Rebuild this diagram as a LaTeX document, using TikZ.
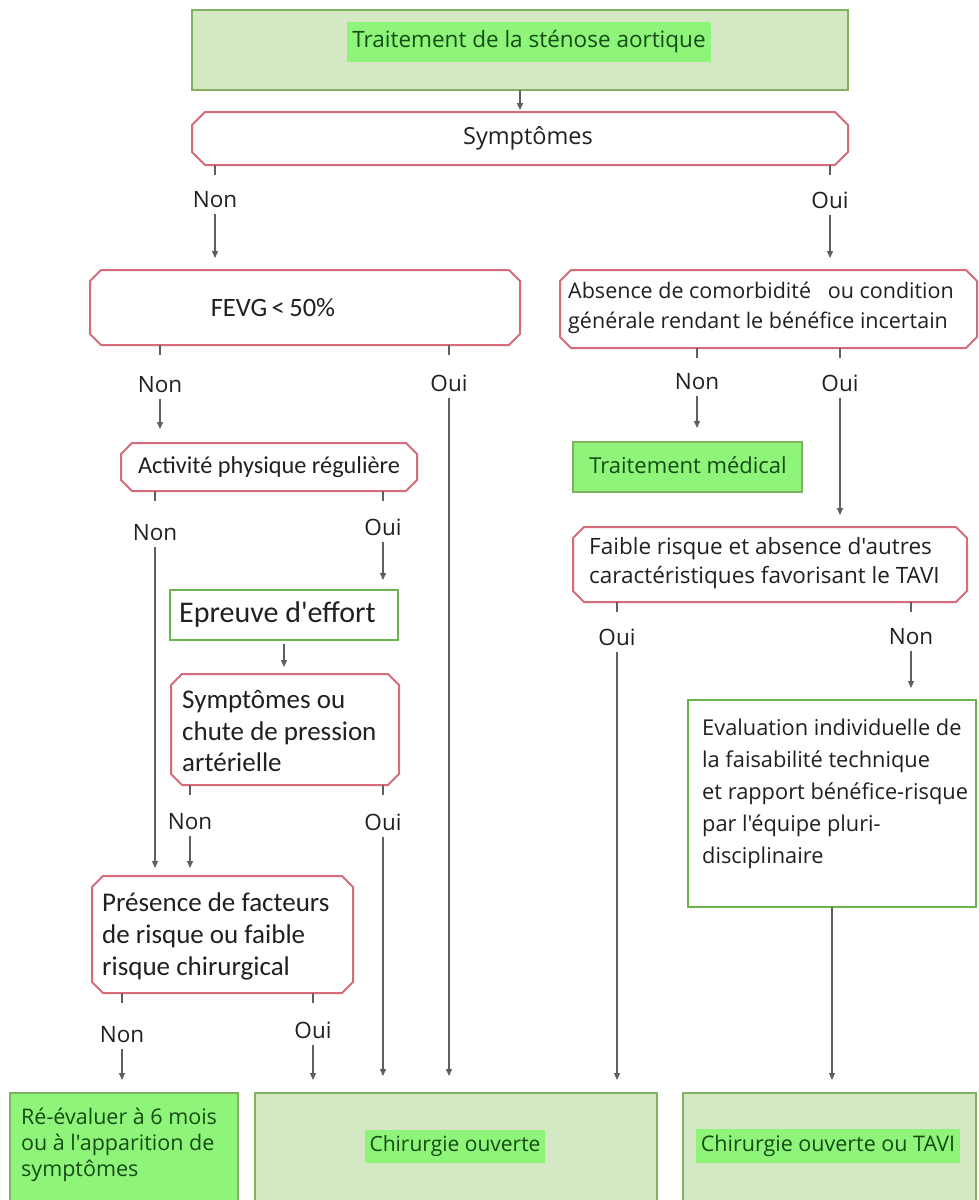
\documentclass[tikz,border=0pt]{standalone}
\usepackage{fontspec}
\newfontfamily\segf{Open Sans}
\newfontfamily\calf{Carlito}
\usetikzlibrary{arrows.meta}
\definecolor{redc}{RGB}{214,108,122}
\definecolor{gbd}{RGB}{128,178,98}
\definecolor{gfill}{RGB}{213,232,196}
\definecolor{hlc}{RGB}{142,244,122}
\definecolor{gtext}{RGB}{20,76,20}
\definecolor{txt}{RGB}{32,32,32}
\definecolor{lnc}{RGB}{95,95,95}
\definecolor{evb}{RGB}{108,178,78}
\newcommand\chbox[2][11pt]{%
  \draw[redline] ([xshift=#1]#2.north west) -- ([xshift=-#1]#2.north east)
    -- ([yshift=-#1]#2.north east) -- ([yshift=#1]#2.south east)
    -- ([xshift=-#1]#2.south east) -- ([xshift=#1]#2.south west)
    -- ([yshift=#1]#2.south west) -- ([yshift=-#1]#2.north west) -- cycle;}
\begin{document}
\begin{tikzpicture}[x=1pt,y=-1pt,
  line/.style={draw=lnc, line width=1.3pt},
  arr/.style={line, -{Triangle[length=7pt,width=6pt]}},
  redline/.style={draw=redc, line width=2pt, fill=white, line join=round},
  shape0/.style={rectangle, inner sep=0pt, outer sep=0pt},
  gbox/.style={shape0, draw=gbd, line width=2pt, fill=gfill},
  hbox/.style={shape0, draw=gbd, line width=2pt, fill=hlc},
  wbox/.style={shape0, draw=evb, line width=2pt, fill=white},
  lab/.style={font=\segf\fontsize{22.5}{26}\selectfont, text=txt, inner xsep=2pt, inner ysep=6pt},
  segt/.style={font=\segf\fontsize{21.5}{30}\selectfont, text=txt, inner sep=0pt, align=left},
  calt/.style={font=\calf\fontsize{27}{32}\selectfont, text=txt, inner sep=0pt, align=left},
  gt/.style={font=\segf\fontsize{21}{26}\selectfont, text=gtext, inner sep=0pt, align=left},
  hl/.style={gt, fill=hlc, inner xsep=5pt, inner ysep=6pt}
]
\useasboundingbox (0,0) rectangle (978,1200);
\fill[white] (0,0) rectangle (978,1200);
\begin{scope}
\clip (0,0) rectangle (978,1200);
% boxes
\node[gbox, minimum width=656pt, minimum height=80pt] (top) at (520,50) {};
\node[shape0, minimum width=656pt, minimum height=53pt] (sym) at (520,138.5) {};
\chbox[13pt]{sym}
\node[shape0, minimum width=430pt, minimum height=75pt] (fevg) at (305,307.5) {};
\chbox{fevg}
\node[shape0, minimum width=417pt, minimum height=78pt] (abs) at (768.5,309) {};
\chbox{abs}
\node[shape0, minimum width=296pt, minimum height=48pt] (act) at (269,467) {};
\chbox{act}
\node[hbox, minimum width=229pt, minimum height=50pt] (med) at (687.5,467) {};
\node[wbox, minimum width=228pt, minimum height=50pt] (epr) at (284,615) {};
\node[shape0, minimum width=228pt, minimum height=111pt] (sco) at (285,729.5) {};
\chbox{sco}
\node[shape0, minimum width=394pt, minimum height=75pt] (fai) at (770,564.5) {};
\chbox{fai}
\node[wbox, minimum width=288pt, minimum height=207pt] (eva) at (832,803.5) {};
\node[shape0, minimum width=261pt, minimum height=117pt] (pre) at (222.5,934.5) {};
\chbox{pre}
\node[hbox, minimum width=228pt, minimum height=130pt] (ree) at (124,1158) {};
\node[gbox, minimum width=402pt, minimum height=130pt] (chi) at (456,1158) {};
\node[gbox, minimum width=293pt, minimum height=130pt] (cht) at (829.5,1158) {};
% texts
\node[hl, font=\segf\fontsize{22.5}{26}\selectfont, inner ysep=9pt] (topT) at (529,42) {Traitement de la sténose aortique};
\node[segt, font=\segf\fontsize{23.5}{28}\selectfont] (symT) at (528,138) {Symptômes};
\node[calt, font=\calf\fontsize{26.5}{30}\selectfont] (fevgT) at (273,308) {FEVG\,<\,50\%};
\node[segt, anchor=west] (absT) at (568,308) {Absence de comorbidité\ \ \ ou condition\\générale rendant le bénéfice incertain};
\node[calt, font=\calf\fontsize{24.3}{28}\selectfont] (actT) at (269,467) {Activité physique régulière};
\node[gt, font=\segf\fontsize{22}{26}\selectfont] (medT) at (688,465) {Traitement médical};
\node[calt, anchor=west, font=\calf\fontsize{30}{34}\selectfont] (eprT) at (179,614) {Epreuve d'effort};
\node[calt, anchor=west, font=\calf\fontsize{27}{31.5}\selectfont] (scoT) at (182,731) {Symptômes ou\\chute de pression\\artérielle};
\node[segt, anchor=west, font=\segf\fontsize{22.5}{29}\selectfont] (faiT) at (589,563) {Faible risque et absence d'autres\\caractéristiques favorisant le TAVI};
\node[segt, anchor=west, font=\segf\fontsize{21.8}{32}\selectfont] (evaT) at (702,794) {Evaluation individuelle de\\la faisabilité technique\\et rapport bénéfice-risque\\par l'équipe pluri-\\disciplinaire};
\node[calt, anchor=west] (preT) at (102,936) {Présence de facteurs\\de risque ou faible\\risque chirurgical};
\node[gt, anchor=west, font=\segf\fontsize{21.5}{26}\selectfont] (reeT) at (21,1145) {Ré-évaluer à 6 mois\\ou à l'apparition de\\symptômes};
\node[hl] (chiT) at (455,1146) {Chirurgie ouverte};
\node[hl, font=\segf\fontsize{21.5}{26}\selectfont] (chtT) at (828,1146) {Chirurgie ouverte ou TAVI};
% labels
\node[lab] (non1) at (215,200) {Non};
\node[lab] (oui1) at (830,200) {Oui};
\node[lab] (non2) at (160,385) {Non};
\node[lab] (oui2) at (449,383) {Oui};
\node[lab] (non3) at (697,382) {Non};
\node[lab] (oui3) at (840,383) {Oui};
\node[lab] (non4) at (155,533) {Non};
\node[lab] (oui4) at (383,527) {Oui};
\node[lab] (oui5) at (617,637) {Oui};
\node[lab] (non5) at (911,637) {Non};
\node[lab] (non6) at (190,822) {Non};
\node[lab] (oui6) at (383,822) {Oui};
\node[lab] (non7) at (122,1035) {Non};
\node[lab] (oui7) at (313,1030) {Oui};
% connectors
\draw[arr, shorten >=2pt] (top.south) -- (sym.north);
\foreach \l/\b in {non1/sym, oui1/sym, non2/fevg, oui2/fevg, non3/abs, oui3/abs, non4/act, oui4/act, oui5/fai, non5/fai, non6/sco, oui6/sco, non7/pre, oui7/pre}
  \draw[line] (\l |- \b.south) -- ++(0,10);
\draw[arr, shorten >=12pt] (non1.south) -- (non1.south |- fevg.north);
\draw[arr, shorten >=12pt] (oui1.south) -- (oui1.south |- abs.north);
\draw[arr, shorten >=14pt] (non2.south) -- (non2.south |- act.north);
\draw[arr, shorten >=17pt] (oui2.south) -- (oui2.south |- chi.north);
\draw[arr, shorten >=14pt] (non3.south) -- (non3.south |- med.north);
\draw[arr, shorten >=12pt] (oui3.south) -- (oui3.south |- fai.north);
\draw[arr, shorten >=8pt] (non4.south) -- (non4.south |- pre.north);
\draw[arr, shorten >=10pt] (oui4.south) -- (oui4.south |- epr.north);
\draw[arr, shorten <=4pt, shorten >=7pt] (epr.south) -- (epr.south |- sco.north);
\draw[arr, shorten >=13pt] (oui5.south) -- (oui5.south |- chi.north);
\draw[arr, shorten >=12pt] (non5.south) -- (non5.south |- eva.north);
\draw[arr, shorten >=8pt] (non6.south) -- (non6.south |- pre.north);
\draw[arr, shorten >=17pt] (oui6.south) -- (oui6.south |- chi.north);
\draw[arr, shorten >=13pt] (non7.south) -- (non7.south |- ree.north);
\draw[arr, shorten >=13pt] (oui7.south) -- (oui7.south |- chi.north);
\draw[arr, shorten >=13pt] (eva.south) -- (eva.south |- cht.north);
\end{scope}
\end{tikzpicture}
\end{document}
